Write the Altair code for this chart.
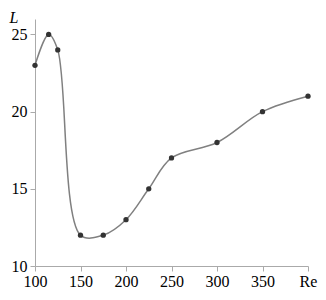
import altair as alt
import pandas as pd

re_vals = [100, 115, 125, 150, 175, 200, 225, 250, 300, 350, 400]
l_vals = [23, 25, 24, 12, 12, 13, 15, 17, 18, 20, 21]
x_ticks = [100, 150, 200, 250, 300, 350, 400]
y_ticks = [10, 15, 20, 25]

df = pd.DataFrame({"Re": re_vals, "L": l_vals})

font = "Liberation Serif, Times New Roman, serif"

x = alt.X("Re:Q", scale=alt.Scale(domain=[100, 400], nice=False, zero=False),
          axis=alt.Axis(values=x_ticks, title=None, grid=False,
                        labelExpr="datum.value == 400 ? 'Re' : datum.label",
                        labelFont=font, labelFontSize=16, labelColor="black",
                        domainColor="#aaaaaa", tickColor="#aaaaaa", tickSize=5,
                        labelPadding=2, labelFlush=False))
y = alt.Y("L:Q", scale=alt.Scale(domain=[10, 26], nice=False, zero=False),
          axis=alt.Axis(values=y_ticks, title="L", grid=False,
                        titleAngle=0, titleX=-26, titleY=-10, titleAlign="left",
                        titleBaseline="top", titleFont=font, titleFontSize=16,
                        titleFontStyle="italic", titleFontWeight="normal", titleColor="black",
                        labelFont=font, labelFontSize=16, labelColor="black",
                        domainColor="#aaaaaa", tickColor="#aaaaaa", tickSize=5,
                        labelPadding=3, labelFlush=False))

line = alt.Chart(df).mark_line(interpolate="catmull-rom", color="#808080", strokeWidth=1.5).encode(x=x, y=y)
pts = alt.Chart(df).mark_circle(color="#333333", size=28, opacity=1).encode(x=x, y=y)

chart = (line + pts).properties(
    width=273, height=247,
    autosize=alt.AutoSizeParams(type="none"),
    padding={"left": 27, "top": 11, "right": 10, "bottom": 24},
).configure_view(stroke=None).configure_axis(labelFont=font, titleFont=font)

chart.save("out.html", embed_options={"renderer": "svg", "actions": False})
